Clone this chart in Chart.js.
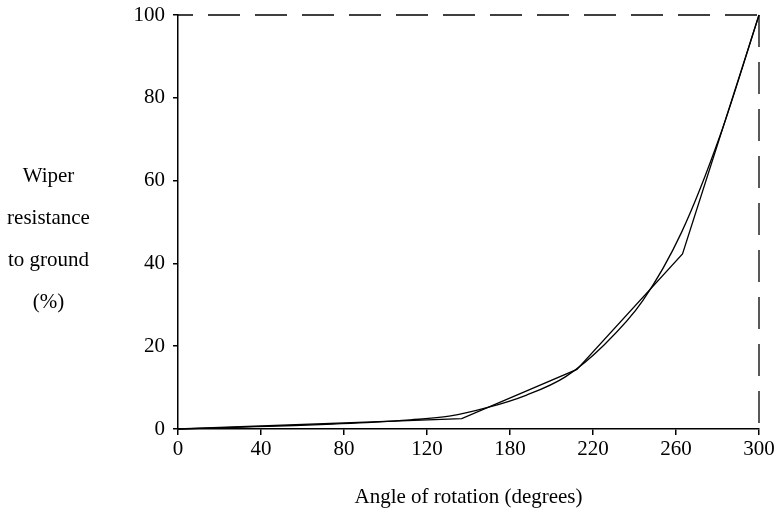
<!DOCTYPE html>
<html>
<head>
<meta charset="utf-8">
<script src="https://cdn.jsdelivr.net/npm/chart.js@4/dist/chart.umd.min.js"></script>
<style>
  html, body { margin: 0; padding: 0; background: #fff; }
  #wrap { width: 775px; height: 517px; position: relative; }
</style>
</head>
<body>
<div id="wrap"><canvas id="c"></canvas></div>
<script>
// ---- data ----
const xTickLabels = ['0', '40', '80', '120', '180', '220', '260', '300'];
const yTickStep = 20;
const yTitleLines = ['Wiper', 'resistance', 'to ground', '(%)'];
const xTitle = 'Angle of rotation (degrees)';

// smooth (true taper) curve
const smoothX = [0, 20, 40, 60, 80, 100, 120, 140, 160, 180, 200, 220, 240, 260, 280, 300];
const smoothY = [0, 0.25, 0.55, 0.85, 1.2, 1.6, 2.2, 3.1, 5.2, 8.2, 12.6, 20.3, 31, 47.5, 71, 100];

// piecewise-linear approximation
const pwX = [0, 146.5, 206, 260.5, 300];
const pwY = [0, 2.5, 14.4, 42.3, 100];

// dashed frame (top and right edges)
const topX = [0, 300];
const topY = [100, 100];
const rightX = [300, 300];
const rightY = [0, 100];

const xMax = 300;

// ---- build ----
const pts = (xs, ys) => xs.map((x, i) => ({ x: x, y: ys[i] }));
const FONT = { family: '"Liberation Serif", "Times New Roman", serif', size: 21 };

const yTitlePlugin = {
  id: 'yTitle',
  afterDraw(chart) {
    const ctx = chart.ctx;
    ctx.save();
    ctx.font = FONT.size + 'px ' + FONT.family;
    ctx.fillStyle = '#000';
    ctx.textAlign = 'center';
    ctx.textBaseline = 'middle';
    const top = chart.chartArea.top;
    yTitleLines.forEach((t, i) => ctx.fillText(t, 48.5, top + 161 + 42 * i));
    ctx.restore();
  }
};

new Chart(document.getElementById('c'), {
  type: 'line',
  data: {
    datasets: [
      { data: pts(smoothX, smoothY), borderColor: '#000', borderWidth: 1.3, pointRadius: 0,
        cubicInterpolationMode: 'monotone', fill: false, clip: false },
      { data: pts(pwX, pwY), borderColor: '#000', borderWidth: 1.3, pointRadius: 0,
        tension: 0, fill: false, clip: false },
      { data: pts(topX, topY), borderColor: '#000', borderWidth: 1.3, pointRadius: 0,
        borderDash: [32, 15], borderDashOffset: 17, fill: false, clip: false },
      { data: pts(rightX, rightY), borderColor: '#000', borderWidth: 1.3, pointRadius: 0,
        borderDash: [32, 15], borderDashOffset: 41, fill: false, clip: false }
    ]
  },
  options: {
    responsive: true,
    maintainAspectRatio: false,
    animation: false,
    events: [],
    layout: { padding: { left: 100, right: 16, top: 15, bottom: 0 } },
    plugins: { legend: { display: false }, tooltip: { enabled: false }, title: { display: false } },
    scales: {
      x: {
        type: 'linear', min: 0, max: xMax,
        afterBuildTicks: s => {
          s.ticks = xTickLabels.map((_, i) => ({ value: i * xMax / (xTickLabels.length - 1) }));
        },
        afterFit: s => { s.height = 88; s.paddingLeft = 0; s.paddingRight = 0; },
        ticks: { callback: (v, i) => xTickLabels[i], font: FONT, color: '#000',
                 maxRotation: 0, autoSkip: false, padding: 2 },
        grid: { display: true, drawOnChartArea: false, drawTicks: true, tickLength: 6,
                color: '#000', lineWidth: 1.5 },
        border: { display: true, color: '#000', width: 1.5 },
        title: { display: true, text: xTitle, font: FONT, color: '#000',
                 padding: { top: 4, bottom: 7 } }
      },
      y: {
        min: 0, max: 100,
        afterFit: s => { s.width = 78; s.paddingTop = 0; s.paddingBottom = 0; },
        ticks: { stepSize: yTickStep, font: FONT, color: '#000', padding: 8 },
        grid: { display: true, drawOnChartArea: false, drawTicks: true, tickLength: 5,
                color: '#000', lineWidth: 1.5 },
        border: { display: true, color: '#000', width: 1.5 }
      }
    }
  },
  plugins: [yTitlePlugin]
});
</script>
</body>
</html>
